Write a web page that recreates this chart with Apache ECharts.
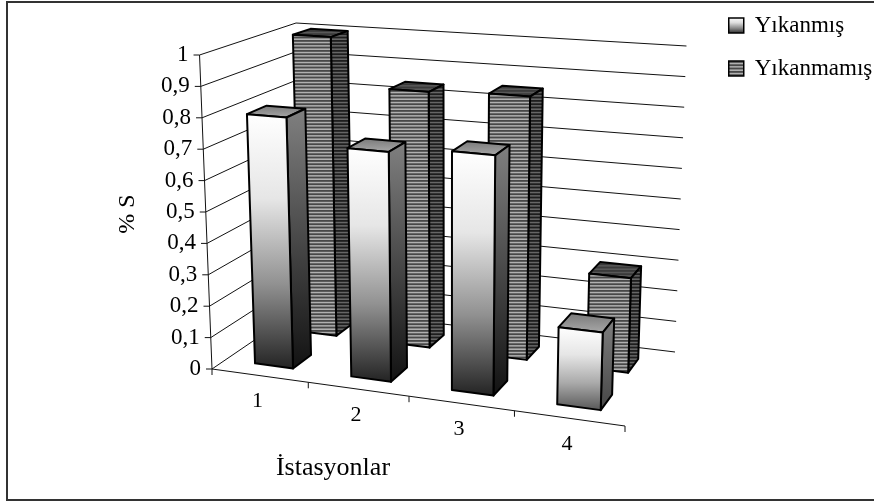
<!DOCTYPE html>
<html>
<head>
<meta charset="utf-8">
<style>
    html, body { margin: 0; padding: 0; background: #fff; }
    #main { width: 874px; height: 501px; }
</style>
<script src="https://cdn.jsdelivr.net/npm/echarts@6/dist/echarts.min.js"></script>
</head>
<body>
<div id="main"></div>
<script>
const categories = ["1", "2", "3", "4"];
const yTicks = [0, 0.1, 0.2, 0.3, 0.4, 0.5, 0.6, 0.7, 0.8, 0.9, 1];
const yTickLabels = ["0", "0,1", "0,2", "0,3", "0,4", "0,5", "0,6", "0,7", "0,8", "0,9", "1"];
const yikanmis = [0.8, 0.72, 0.74, 0.235];
const yikanmamis = [1, 0.84, 0.85, 0.3];

// floor corners as seen on the page: front-left, front-right, back-right, back-left
const floorQuad = [[212, 369], [625, 426], [675, 352], [303, 307]];
// box height above each of those corners
const boxHeight = [314, 336, 306, 284];
// verticals lean towards this point far below the chart
const vanishX = 450, vanishDist = 6000;

function quadMap(q) {
    let dx1 = q[1][0] - q[2][0], dx2 = q[3][0] - q[2][0], sx = q[0][0] - q[1][0] + q[2][0] - q[3][0];
    let dy1 = q[1][1] - q[2][1], dy2 = q[3][1] - q[2][1], sy = q[0][1] - q[1][1] + q[2][1] - q[3][1];
    let den = dx1 * dy2 - dx2 * dy1;
    let g = (sx * dy2 - dx2 * sy) / den;
    let h = (dx1 * sy - sx * dy1) / den;
    let a = q[1][0] - q[0][0] + g * q[1][0], b = q[3][0] - q[0][0] + h * q[3][0], c = q[0][0];
    let d = q[1][1] - q[0][1] + g * q[1][1], e = q[3][1] - q[0][1] + h * q[3][1], f = q[0][1];
    return function (u, w) {
        let k = g * u + h * w + 1;
        return [(a * u + b * w + c) / k, (d * u + e * w + f) / k];
    };
}
const floorMap = quadMap(floorQuad);

// api.coord gives the position on the flat hidden grid, this bends it into the box
function project(params, api, x, v, w) {
    let cs = params.coordSys;
    let p = api.coord([x, v]);
    let u = (p[0] - cs.x) / cs.width;
    let t = (cs.y + cs.height - p[1]) / cs.height;
    let f = floorMap(u, w);
    let h = boxHeight[0] * (1 - u) * (1 - w) + boxHeight[1] * u * (1 - w) + boxHeight[2] * u * w + boxHeight[3] * (1 - u) * w;
    let up = h * t;
    return [f[0] + (f[0] - vanishX) * up / vanishDist, f[1] - up];
}

function vGrad(stops) {
    return new echarts.graphic.LinearGradient(0, 0, 0, 1, stops.map(function (c, i) {
        return { offset: i / (stops.length - 1), color: c };
    }));
}

function stripes(light, dark) {
    let c = document.createElement("canvas");
    c.width = 4;
    c.height = 10;
    let ctx = c.getContext("2d");
    ctx.fillStyle = light;
    ctx.fillRect(0, 0, 4, 10);
    ctx.fillStyle = dark;
    ctx.fillRect(0, 0, 4, 1.8);
    ctx.fillRect(0, 3.3, 4, 1.8);
    ctx.fillRect(0, 6.6, 4, 1.8);
    return { image: c, repeat: "repeat" };
}

const barOutline = { stroke: "#000", lineWidth: 2, lineJoin: "round" };

function face(points, fill) {
    return {
        type: "polygon",
        shape: { points: points },
        style: Object.assign({ fill: fill }, barOutline)
    };
}

function barItem(w0, w1, styler) {
    const x0 = 0.31, x1 = 0.71;
    return function (params, api) {
        let i = api.value(0), v = api.value(1);
        let P = function (x, y, w) { return project(params, api, i + x, y, w); };
        let s = styler(v);
        return {
            type: "group",
            children: [
                face([P(x0, v, w0), P(x1, v, w0), P(x1, v, w1), P(x0, v, w1)], s.top),
                face([P(x1, 0, w0), P(x1, v, w0), P(x1, v, w1), P(x1, 0, w1)], s.side),
                face([P(x0, 0, w0), P(x1, 0, w0), P(x1, v, w0), P(x0, v, w0)], s.front)
            ]
        };
    };
}

function hex2(n) {
    return ("0" + Math.round(n).toString(16)).slice(-2);
}
function gray(n) {
    return "#" + hex2(n) + hex2(n) + hex2(n);
}

function whiteStyle(v) {
    // short bars do not reach the dark end of the fade
    let low = 0x22 + Math.max(0, 0.7 - v) * 110;
    return {
        top: new echarts.graphic.LinearGradient(0, 0, 0, 1, [{ offset: 0, color: "#777" }, { offset: 1, color: "#aaa" }]),
        side: vGrad(["#808080", gray(low - 0x10)]),
        front: vGrad(["#ffffff", "#e6e6e6", gray((255 + low) / 2), gray(low)])
    };
}

const darkFront = stripes("#b0b0b0", "#484848");
const darkSide = stripes("#666", "#1e1e1e");
const darkTop = stripes("#585858", "#3a3a3a");
function darkStyle() {
    return { top: darkTop, side: darkSide, front: darkFront };
}

function wallItem(params, api) {
    let v = api.value(0);
    let a = project(params, api, 0, v, 0);
    let b = project(params, api, 0, v, 1);
    let c = project(params, api, 4, v, 1);
    let line = { stroke: "#111", lineWidth: 1, fill: null };
    return {
        type: "group",
        children: [
            { type: "polyline", shape: { points: [[a[0] - 6, a[1]], a, b, c] }, style: line },
            {
                type: "text",
                style: {
                    x: a[0] - 11, y: a[1], text: yTickLabels[params.dataIndex],
                    align: "right", verticalAlign: "middle",
                    font: '23px "Liberation Serif"', fill: "#000"
                }
            }
        ]
    };
}

function frameItem(params, api) {
    let line = { stroke: "#111", lineWidth: 1, fill: null };
    let kids = [
        { type: "polyline", shape: { points: [project(params, api, 0, 0, 0), project(params, api, 0, 1, 0)] }, style: line },
        { type: "polyline", shape: { points: [project(params, api, 0, 0, 0), project(params, api, 4, 0, 0)] }, style: line }
    ];
    for (let k = 0; k <= categories.length; k++) {
        let p = project(params, api, k, 0, 0);
        kids.push({ type: "polyline", shape: { points: [p, [p[0], p[1] + 6]] }, style: line });
    }
    categories.forEach(function (name, k) {
        let p = project(params, api, k + 0.5, 0, 0);
        kids.push({
            type: "text",
            style: {
                x: p[0] - 2, y: p[1] + 26, text: name,
                align: "center", verticalAlign: "middle",
                font: '22px "Liberation Serif"', fill: "#000"
            }
        });
    });
    return { type: "group", children: kids };
}

let myChart = echarts.init(document.getElementById("main"), null, { renderer: "canvas" });

let option = {
    animation: false,
    backgroundColor: "#fff",
    grid: { left: 0, right: 0, top: 0, bottom: 0 },
    xAxis: { type: "value", min: 0, max: categories.length, show: false },
    yAxis: { type: "value", min: 0, max: 1, interval: 0.1, show: false },
    legend: {
        left: 723,
        top: 9,
        orient: "vertical",
        itemWidth: 15,
        itemHeight: 15,
        itemGap: 20,
        textStyle: { fontFamily: "Liberation Serif", fontSize: 23, color: "#000", padding: [0, 0, 0, 6] },
        data: [
            {
                name: "Yıkanmış", icon: "rect",
                itemStyle: { color: vGrad(["#fff", "#ddd", "#888", "#222"]), borderColor: "#000", borderWidth: 1.5 }
            },
            {
                name: "Yıkanmamış", icon: "rect",
                itemStyle: { color: darkFront, borderColor: "#000", borderWidth: 1.5 }
            }
        ]
    },
    graphic: [
        {
            type: "rect", silent: true, z: -1,
            shape: { x: 7, y: 2, width: 880, height: 498 },
            style: { fill: null, stroke: "#333", lineWidth: 2 }
        },
        {
            type: "text", x: 128, y: 214, rotation: Math.PI / 2,
            style: { text: "% S", align: "center", verticalAlign: "middle", font: '24px "Liberation Serif"', fill: "#000" }
        },
        {
            type: "text", x: 333, y: 468,
            style: { text: "İstasyonlar", align: "center", verticalAlign: "middle", font: '26px "Liberation Serif"', fill: "#000" }
        }
    ],
    series: [
        {
            type: "custom", name: "walls", silent: true, z: 1,
            data: yTicks.map(function (v) { return [v]; }),
            encode: { x: -1, y: 0 },
            renderItem: wallItem
        },
        {
            type: "custom", name: "frame", silent: true, z: 1,
            data: [[0]],
            encode: { x: -1, y: -1 },
            renderItem: frameItem
        },
        {
            type: "custom", name: "Yıkanmamış", z: 2,
            data: yikanmamis.map(function (v, i) { return [i, v]; }),
            encode: { x: 0, y: 1 },
            renderItem: barItem(0.64, 0.84, darkStyle)
        },
        {
            type: "custom", name: "Yıkanmış", z: 3,
            data: yikanmis.map(function (v, i) { return [i, v]; }),
            encode: { x: 0, y: 1 },
            renderItem: barItem(0.14, 0.34, whiteStyle)
        }
    ]
};
myChart.setOption(option);
</script>
</body>
</html>
